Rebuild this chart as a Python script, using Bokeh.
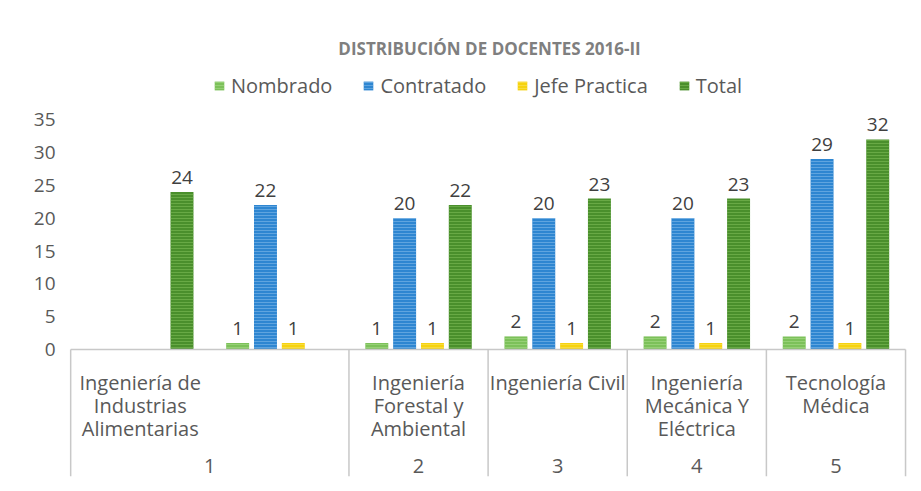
from bokeh.plotting import figure
from bokeh.models import ColumnDataSource, Range1d, FixedTicker, Legend, LegendItem
from bokeh.core.properties import value
from bokeh.embed import file_html
from bokeh.resources import INLINE

# ---------------- data ----------------
title_text = "DISTRIBUCIÓN DE DOCENTES 2016-II"
series_names = ["Nombrado", "Contratado", "Jefe Practica", "Total"]
# six category slots on the axis (group 1 spans the first two slots)
slot_index = [0, 1, 2, 3, 4, 5]
nombrado = [None, 1, 1, 2, 2, 2]
contratado = [None, 22, 20, 20, 20, 29]
jefe_practica = [None, 1, 1, 1, 1, 1]
total = [24, None, 22, 23, 23, 32]

group_numbers = ["1", "2", "3", "4", "5"]
group_names = [
    "Ingeniería de\nIndustrias\nAlimentarias",
    "Ingeniería\nForestal y\nAmbiental",
    "Ingeniería Civil",
    "Ingeniería\nMecánica Y\nEléctrica",
    "Tecnología\nMédica",
]
group_first_slot = [0, 2, 3, 4, 5]
group_slot_count = [2, 1, 1, 1, 1]
y_ticks = [0, 5, 10, 15, 20, 25, 30, 35]

# ---------------- styles ----------------
colors = ["#7cc15a", "#2e86d1", "#f6d30f", "#4a8f2c"]
hatch_colors = ["#b5e29a", "#9cc8f0", "#fbe77a", "#8cc864"]
offsets = [0.2, 0.4, 0.6, 0.8]
bar_w = 0.165
FONT = "Open Sans"
TXT = "#595959"

p = figure(width=913, height=483, output_backend="svg", toolbar_location=None,
           x_range=Range1d(-0.03, 6.05), y_range=Range1d(-20.4, 42.8),
           min_border_left=66, min_border_right=1, min_border_top=68,
           min_border_bottom=0)
p.background_fill_color = "white"
p.border_fill_color = "white"
p.outline_line_color = None
p.grid.visible = False
p.xaxis.visible = False

p.yaxis.ticker = FixedTicker(ticks=y_ticks)
p.yaxis.axis_line_color = None
p.yaxis.major_tick_line_color = None
p.yaxis.minor_tick_line_color = None
p.yaxis.major_tick_out = 0
p.yaxis.major_label_standoff = 11
p.yaxis.major_label_text_font = FONT
p.yaxis.major_label_text_font_size = "19px"
p.yaxis.major_label_text_color = TXT

p.title.text = title_text
p.title.align = "center"
p.title.text_font = FONT
p.title.text_font_size = "17px"
p.title.text_font_style = "bold"
p.title.text_color = "#7f7f7f"
p.title.standoff = 17

# ---------------- bars ----------------
renderers = []
for vals, off, col, hcol in zip([nombrado, contratado, jefe_practica, total],
                                offsets, colors, hatch_colors):
    xs = [s + off for s, v in zip(slot_index, vals) if v is not None]
    ys = [v for v in vals if v is not None]
    src = ColumnDataSource(dict(x=xs, top=ys, lab=[str(v) for v in ys]))
    r = p.vbar(x="x", top="top", width=bar_w, bottom=0, source=src,
               fill_color=col, line_color=None,
               hatch_pattern="horizontal_line", hatch_color=hcol,
               hatch_alpha=0.45, hatch_scale=3, hatch_weight=1)
    renderers.append(r)
    p.text(x="x", y="top", text="lab", source=src, text_align="center",
           text_baseline="bottom", y_offset=-8, text_font=value(FONT),
           text_font_size="19px", text_color="#404040")

# ---------------- category table ----------------
grid_col = "#c8c8c8"
p.segment(x0=[0], y0=[0], x1=[6], y1=[0], line_color=grid_col, line_width=1.5)
vx = [0] + [f + c for f, c in zip(group_first_slot, group_slot_count)]
p.segment(x0=vx, y0=[0] * len(vx), x1=vx, y1=[-19.3] * len(vx),
          line_color=grid_col, line_width=1.5)

name_x = [f + 0.5 for f in group_first_slot]
num_x = [f + c / 2 for f, c in zip(group_first_slot, group_slot_count)]
p.text(x=name_x, y=[-3.0] * len(name_x), text=group_names, text_align="center",
       text_baseline="top", text_font=value(FONT), text_font_size="20px",
       text_color=TXT, text_line_height=0.85)
p.text(x=num_x, y=[-17.8] * len(num_x), text=group_numbers, text_align="center",
       text_baseline="middle", text_font=value(FONT), text_font_size="20px",
       text_color=TXT)

# ---------------- legend ----------------
legend = Legend(items=[LegendItem(label=n, renderers=[r])
                       for n, r in zip(series_names, renderers)],
                orientation="horizontal", location=(147, 384))
legend.border_line_color = None
legend.background_fill_alpha = 0
legend.glyph_width = 12
legend.glyph_height = 11
legend.label_text_font = FONT
legend.label_text_font_size = "20px"
legend.label_text_color = TXT
legend.label_standoff = 6
legend.spacing = 30
legend.padding = 0
legend.margin = 0
p.add_layout(legend)

open("out.html", "w").write(file_html(p, INLINE))
